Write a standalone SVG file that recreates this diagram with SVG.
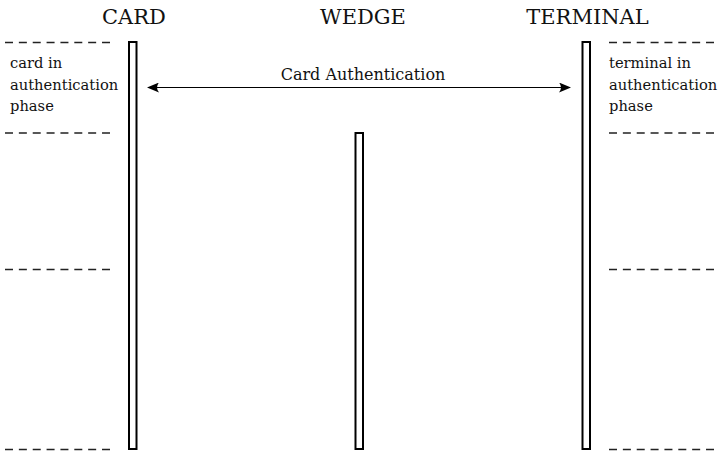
<svg xmlns="http://www.w3.org/2000/svg" width="720" height="451" viewBox="0 0 720 451">
<style>
text{font-family:"DejaVu Serif","Liberation Serif",serif;fill:#111}
.title{font-size:21px;text-anchor:middle}
.lbl{font-size:16px;text-anchor:middle}
.note{font-size:14.7px}
.bar{fill:#fff;stroke:#000;stroke-width:2}
.dash{stroke:#222;stroke-width:1.3;stroke-dasharray:8 5.86;fill:none}
.msg{stroke:#000;stroke-width:1.2;fill:none}
</style>
<defs>
<marker id="ah" viewBox="0 0 12 10" refX="11" refY="5" markerWidth="12" markerHeight="10" markerUnits="userSpaceOnUse" orient="auto-start-reverse">
<path d="M0,0 Q4,5 0,10 L12,5 Z" fill="#000"/>
</marker>
</defs>
<g id="card">
<text class="title" x="134" y="24">CARD</text>
<rect class="bar" x="129" y="42" width="7.5" height="407"/>
</g>
<g id="wedge">
<text class="title" x="363" y="24">WEDGE</text>
<rect class="bar" x="355.5" y="133" width="7.5" height="316"/>
</g>
<g id="terminal">
<text class="title" x="587.5" y="24">TERMINAL</text>
<rect class="bar" x="582.5" y="42" width="7.5" height="407"/>
</g>
<g id="phases">
<line class="dash" x1="5" y1="42.5" x2="110" y2="42.5"/>
<line class="dash" x1="5" y1="133" x2="110" y2="133"/>
<line class="dash" x1="5" y1="269.5" x2="110" y2="269.5"/>
<line class="dash" x1="5" y1="449.5" x2="110" y2="449.5"/>
<line class="dash" x1="609" y1="42.5" x2="714" y2="42.5"/>
<line class="dash" x1="609" y1="133" x2="714" y2="133"/>
<line class="dash" x1="609" y1="269.5" x2="714" y2="269.5"/>
<line class="dash" x1="609" y1="449.5" x2="714" y2="449.5"/>
<text class="note" x="10" y="68">card in</text>
<text class="note" x="10" y="90">authentication</text>
<text class="note" x="10" y="111">phase</text>
<text class="note" x="609" y="68">terminal in</text>
<text class="note" x="609" y="90">authentication</text>
<text class="note" x="609" y="111">phase</text>
</g>
<g id="connectors">
<line class="msg" x1="148" y1="87.5" x2="570" y2="87.5" marker-start="url(#ah)" marker-end="url(#ah)"/>
<text class="lbl" x="363" y="80">Card Authentication</text>
</g>
</svg>
